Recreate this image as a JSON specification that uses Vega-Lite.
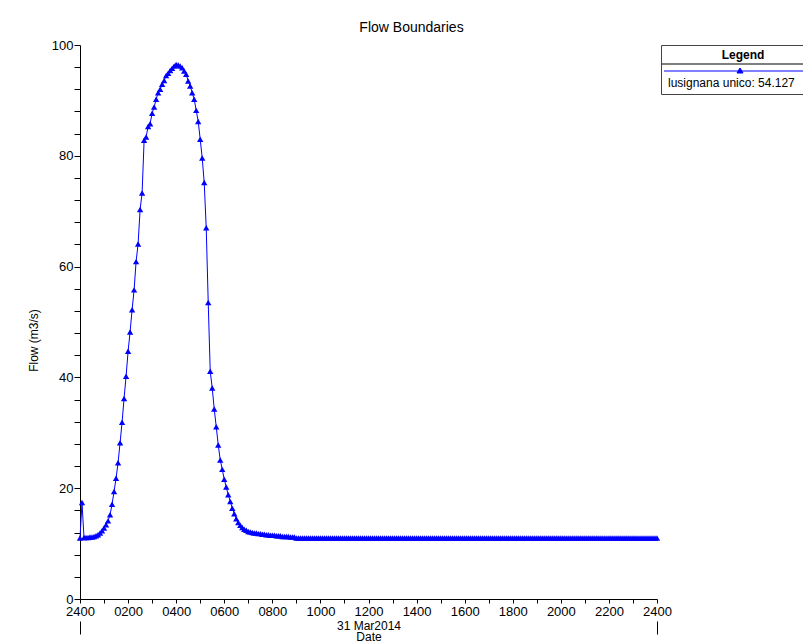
{
 "$schema": "https://vega.github.io/schema/vega-lite/v6.json",
 "width": 577,
 "height": 554,
 "autosize": {"type": "none"},
 "padding": {"left": 80, "top": 45, "right": 146, "bottom": 43},
 "background": "white",
 "title": {"text": "Flow Boundaries", "fontSize": 14, "font": "Liberation Sans", "fontWeight": "normal", "anchor": "middle", "dx": 43, "offset": 4, "color": "black"},
 "config": {"view": {"stroke": null}, "font": "Liberation Sans"},
 "data": {"values": [
  {"m":0,"q":11.0},{"m":5,"q":17.4},{"m":10,"q":11.1},{"m":15,"q":11.1},{"m":20,"q":11.1},{"m":25,"q":11.2},{"m":30,"q":11.2},{"m":35,"q":11.3},{"m":40,"q":11.4},{"m":45,"q":11.6},
  {"m":50,"q":11.9},{"m":55,"q":12.3},{"m":60,"q":12.8},{"m":65,"q":13.4},{"m":70,"q":14.1},{"m":75,"q":15.2},{"m":80,"q":17.1},{"m":85,"q":19.4},{"m":90,"q":21.8},{"m":95,"q":24.6},
  {"m":100,"q":28.2},{"m":105,"q":31.9},{"m":110,"q":36.2},{"m":115,"q":40.2},{"m":120,"q":44.7},{"m":125,"q":48.2},{"m":130,"q":52.2},{"m":135,"q":55.8},{"m":140,"q":60.9},{"m":145,"q":64.1},
  {"m":150,"q":70.3},{"m":155,"q":73.3},{"m":160,"q":82.8},{"m":165,"q":83.4},{"m":170,"q":85.3},{"m":175,"q":85.8},{"m":180,"q":87.7},{"m":185,"q":88.8},{"m":190,"q":90.2},{"m":195,"q":91.4},
  {"m":200,"q":92.0},{"m":205,"q":92.9},{"m":210,"q":93.6},{"m":215,"q":94.5},{"m":220,"q":94.9},{"m":225,"q":95.4},{"m":230,"q":95.8},{"m":235,"q":96.2},{"m":240,"q":96.5},{"m":245,"q":96.4},
  {"m":250,"q":96.2},{"m":255,"q":95.9},{"m":260,"q":95.3},{"m":265,"q":94.7},{"m":270,"q":93.5},{"m":275,"q":92.6},{"m":280,"q":91.4},{"m":285,"q":90.2},{"m":290,"q":88.2},{"m":295,"q":86.2},
  {"m":300,"q":83.0},{"m":305,"q":79.6},{"m":310,"q":75.2},{"m":315,"q":67.0},{"m":320,"q":53.5},{"m":325,"q":41.1},{"m":330,"q":38.1},{"m":335,"q":34.3},{"m":340,"q":31.1},{"m":345,"q":27.8},
  {"m":350,"q":25.1},{"m":355,"q":23.4},{"m":360,"q":21.6},{"m":365,"q":20.2},{"m":370,"q":18.8},{"m":375,"q":17.6},{"m":380,"q":16.4},{"m":385,"q":15.4},{"m":390,"q":14.5},{"m":395,"q":13.8},
  {"m":400,"q":13.3},{"m":405,"q":12.9},{"m":410,"q":12.6},{"m":415,"q":12.4},{"m":420,"q":12.2},{"m":425,"q":12.1},{"m":430,"q":12.0},{"m":435,"q":11.9},{"m":440,"q":11.9},{"m":445,"q":11.8},
  {"m":450,"q":11.8},{"m":455,"q":11.7},{"m":460,"q":11.7},{"m":465,"q":11.6},{"m":470,"q":11.6},{"m":475,"q":11.5},{"m":480,"q":11.5},{"m":485,"q":11.5},{"m":490,"q":11.4},{"m":495,"q":11.4},
  {"m":500,"q":11.4},{"m":505,"q":11.3},{"m":510,"q":11.3},{"m":515,"q":11.3},{"m":520,"q":11.3},{"m":525,"q":11.2},{"m":530,"q":11.2},{"m":535,"q":11.2},
  {"m":540,"q":11.0},{"m":545,"q":11.0},{"m":550,"q":11.0},{"m":555,"q":11.0},{"m":560,"q":11.0},{"m":565,"q":11.0},{"m":570,"q":11.0},{"m":575,"q":11.0},{"m":580,"q":11.0},{"m":585,"q":11.0},
  {"m":590,"q":11.0},{"m":595,"q":11.0},{"m":600,"q":11.0},{"m":605,"q":11.0},{"m":610,"q":11.0},{"m":615,"q":11.0},{"m":620,"q":11.0},{"m":625,"q":11.0},{"m":630,"q":11.0},{"m":635,"q":11.0},
  {"m":640,"q":11.0},{"m":645,"q":11.0},{"m":650,"q":11.0},{"m":655,"q":11.0},{"m":660,"q":11.0},{"m":665,"q":11.0},{"m":670,"q":11.0},{"m":675,"q":11.0},{"m":680,"q":11.0},{"m":685,"q":11.0},
  {"m":690,"q":11.0},{"m":695,"q":11.0},{"m":700,"q":11.0},{"m":705,"q":11.0},{"m":710,"q":11.0},{"m":715,"q":11.0},{"m":720,"q":11.0},{"m":725,"q":11.0},{"m":730,"q":11.0},{"m":735,"q":11.0},
  {"m":740,"q":11.0},{"m":745,"q":11.0},{"m":750,"q":11.0},{"m":755,"q":11.0},{"m":760,"q":11.0},{"m":765,"q":11.0},{"m":770,"q":11.0},{"m":775,"q":11.0},{"m":780,"q":11.0},{"m":785,"q":11.0},
  {"m":790,"q":11.0},{"m":795,"q":11.0},{"m":800,"q":11.0},{"m":805,"q":11.0},{"m":810,"q":11.0},{"m":815,"q":11.0},{"m":820,"q":11.0},{"m":825,"q":11.0},{"m":830,"q":11.0},{"m":835,"q":11.0},
  {"m":840,"q":11.0},{"m":845,"q":11.0},{"m":850,"q":11.0},{"m":855,"q":11.0},{"m":860,"q":11.0},{"m":865,"q":11.0},{"m":870,"q":11.0},{"m":875,"q":11.0},{"m":880,"q":11.0},{"m":885,"q":11.0},
  {"m":890,"q":11.0},{"m":895,"q":11.0},{"m":900,"q":11.0},{"m":905,"q":11.0},{"m":910,"q":11.0},{"m":915,"q":11.0},{"m":920,"q":11.0},{"m":925,"q":11.0},{"m":930,"q":11.0},{"m":935,"q":11.0},
  {"m":940,"q":11.0},{"m":945,"q":11.0},{"m":950,"q":11.0},{"m":955,"q":11.0},{"m":960,"q":11.0},{"m":965,"q":11.0},{"m":970,"q":11.0},{"m":975,"q":11.0},{"m":980,"q":11.0},{"m":985,"q":11.0},
  {"m":990,"q":11.0},{"m":995,"q":11.0},{"m":1000,"q":11.0},{"m":1005,"q":11.0},{"m":1010,"q":11.0},{"m":1015,"q":11.0},{"m":1020,"q":11.0},{"m":1025,"q":11.0},{"m":1030,"q":11.0},{"m":1035,"q":11.0},
  {"m":1040,"q":11.0},{"m":1045,"q":11.0},{"m":1050,"q":11.0},{"m":1055,"q":11.0},{"m":1060,"q":11.0},{"m":1065,"q":11.0},{"m":1070,"q":11.0},{"m":1075,"q":11.0},{"m":1080,"q":11.0},{"m":1085,"q":11.0},
  {"m":1090,"q":11.0},{"m":1095,"q":11.0},{"m":1100,"q":11.0},{"m":1105,"q":11.0},{"m":1110,"q":11.0},{"m":1115,"q":11.0},{"m":1120,"q":11.0},{"m":1125,"q":11.0},{"m":1130,"q":11.0},{"m":1135,"q":11.0},
  {"m":1140,"q":11.0},{"m":1145,"q":11.0},{"m":1150,"q":11.0},{"m":1155,"q":11.0},{"m":1160,"q":11.0},{"m":1165,"q":11.0},{"m":1170,"q":11.0},{"m":1175,"q":11.0},{"m":1180,"q":11.0},{"m":1185,"q":11.0},
  {"m":1190,"q":11.0},{"m":1195,"q":11.0},{"m":1200,"q":11.0},{"m":1205,"q":11.0},{"m":1210,"q":11.0},{"m":1215,"q":11.0},{"m":1220,"q":11.0},{"m":1225,"q":11.0},{"m":1230,"q":11.0},{"m":1235,"q":11.0},
  {"m":1240,"q":11.0},{"m":1245,"q":11.0},{"m":1250,"q":11.0},{"m":1255,"q":11.0},{"m":1260,"q":11.0},{"m":1265,"q":11.0},{"m":1270,"q":11.0},{"m":1275,"q":11.0},{"m":1280,"q":11.0},{"m":1285,"q":11.0},
  {"m":1290,"q":11.0},{"m":1295,"q":11.0},{"m":1300,"q":11.0},{"m":1305,"q":11.0},{"m":1310,"q":11.0},{"m":1315,"q":11.0},{"m":1320,"q":11.0},{"m":1325,"q":11.0},{"m":1330,"q":11.0},{"m":1335,"q":11.0},
  {"m":1340,"q":11.0},{"m":1345,"q":11.0},{"m":1350,"q":11.0},{"m":1355,"q":11.0},{"m":1360,"q":11.0},{"m":1365,"q":11.0},{"m":1370,"q":11.0},{"m":1375,"q":11.0},{"m":1380,"q":11.0},{"m":1385,"q":11.0},
  {"m":1390,"q":11.0},{"m":1395,"q":11.0},{"m":1400,"q":11.0},{"m":1405,"q":11.0},{"m":1410,"q":11.0},{"m":1415,"q":11.0},{"m":1420,"q":11.0},{"m":1425,"q":11.0},{"m":1430,"q":11.0},{"m":1435,"q":11.0},
  {"m":1440,"q":11.0}
 ]},
 "layer": [
  {
   "mark": {"type": "point", "opacity": 0},
   "encoding": {
    "x": {"field": "m", "type": "quantitative", "scale": {"domain": [0, 1440], "nice": false, "zero": false},
          "axis": {"orient": "bottom", "values": [0, 1440], "labels": false, "domain": false, "grid": false, "offset": 22, "tickSize": 13, "tickColor": "black", "tickWidth": 1, "title": null}},
    "y": {"field": "q", "type": "quantitative", "scale": {"domain": [0, 100], "nice": false},
          "axis": {"orient": "left", "values": [0,4,8,12,16,20,24,28,32,36,40,44,48,52,56,60,64,68,72,76,80,84,88,92,96,100],
                   "labelExpr": "datum.value % 20 == 0 ? datum.label : ''",
                   "labelOverlap": false, "labelFlush": false, "grid": false, "tickSize": 6, "labelPadding": 1,
                   "labelFontSize": 13, "labelFont": "Liberation Sans", "labelColor": "black", "domainColor": "black", "tickColor": "black",
                   "title": "Flow  (m3/s)", "titleFontSize": 12, "titleFontWeight": "normal", "titleColor": "black", "titleFont": "Liberation Sans", "titleX": -40, "titleY": 295}},
    "shape": {"datum": "sep", "type": "nominal", "scale": {"range": ["M-1,0L31,0"]},
              "legend": {"orient": "none", "legendX": 581, "legendY": 13, "title": null, "padding": 0, "labelExpr": "''", "labelFontSize": 1,
                         "symbolSize": 100, "symbolStrokeColor": "#555", "symbolFillColor": "transparent", "symbolStrokeWidth": 1.5, "symbolOpacity": 1}}
   }
  },
  {
   "mark": {"type": "line", "color": "#0000ff", "strokeWidth": 1, "point": {"shape": "triangle-up", "size": 40, "filled": true, "color": "#0000ff", "opacity": 1}},
   "encoding": {
    "x": {"field": "m", "type": "quantitative", "scale": {"domain": [0, 1440], "nice": false, "zero": false},
          "axis": {"orient": "bottom", "values": [0,60,120,180,240,300,360,420,480,540,600,660,720,780,840,900,960,1020,1080,1140,1200,1260,1320,1380,1440],
                   "labelExpr": "datum.value % 120 == 0 ? ((datum.value == 0 || datum.value == 1440) ? '2400' : ((datum.value < 600 ? '0' : '') + (datum.value / 60) + '00')) : ''",
                   "labelOverlap": false, "labelFlush": false, "grid": false, "tickSize": 4, "labelPadding": 2,
                   "labelFontSize": 13, "labelFont": "Liberation Sans", "labelColor": "black", "domainColor": "black", "tickColor": "black",
                   "title": ["31 Mar2014", "Date"], "titleFontSize": 12, "titleFontWeight": "normal", "titleColor": "black", "titleFont": "Liberation Sans", "titlePadding": 2, "titleLineHeight": 11}},
    "y": {"field": "q", "type": "quantitative", "scale": {"domain": [0, 100], "nice": false},
          "axis": {"orient": "left", "values": [0,4,8,12,16,20,24,28,32,36,40,44,48,52,56,60,64,68,72,76,80,84,88,92,96,100],
                   "labelExpr": "datum.value % 20 == 0 ? datum.label : ''",
                   "labelOverlap": false, "labelFlush": false, "grid": false, "tickSize": 6, "labelPadding": 1,
                   "labelFontSize": 13, "labelFont": "Liberation Sans", "labelColor": "black", "domainColor": "black", "tickColor": "black",
                   "title": "Flow  (m3/s)", "titleFontSize": 12, "titleFontWeight": "normal", "titleColor": "black", "titleFont": "Liberation Sans", "titleX": -40, "titleY": 295}},
    "color": {"datum": "lusignana unico: 54.127", "type": "nominal", "scale": {"range": ["#0000ff"]},
              "legend": {"orient": "none", "legendX": 581, "legendY": 0, "title": "Legend", "titleFontSize": 12, "titleFontWeight": "bold", "titleFont": "Liberation Sans",
                         "titleAnchor": "middle", "titleColor": "black", "titlePadding": 15, "labelFontSize": 12, "labelFont": "Liberation Sans", "labelColor": "black",
                         "labelOffset": -10, "labelLimit": 400, "padding": 5, "strokeColor": "#444",
                         "symbolType": "M-1.6,-2.4L29,-2.4M13.6,-3.0L14.2,-2.0L13.0,-2.0Z", "symbolSize": 100,
                         "symbolStrokeColor": "#0000ff", "symbolFillColor": "#0000ff", "symbolStrokeWidth": 1, "symbolOpacity": 1}}
   }
  }
 ],
 "resolve": {"axis": {"x": "independent"}}
}
